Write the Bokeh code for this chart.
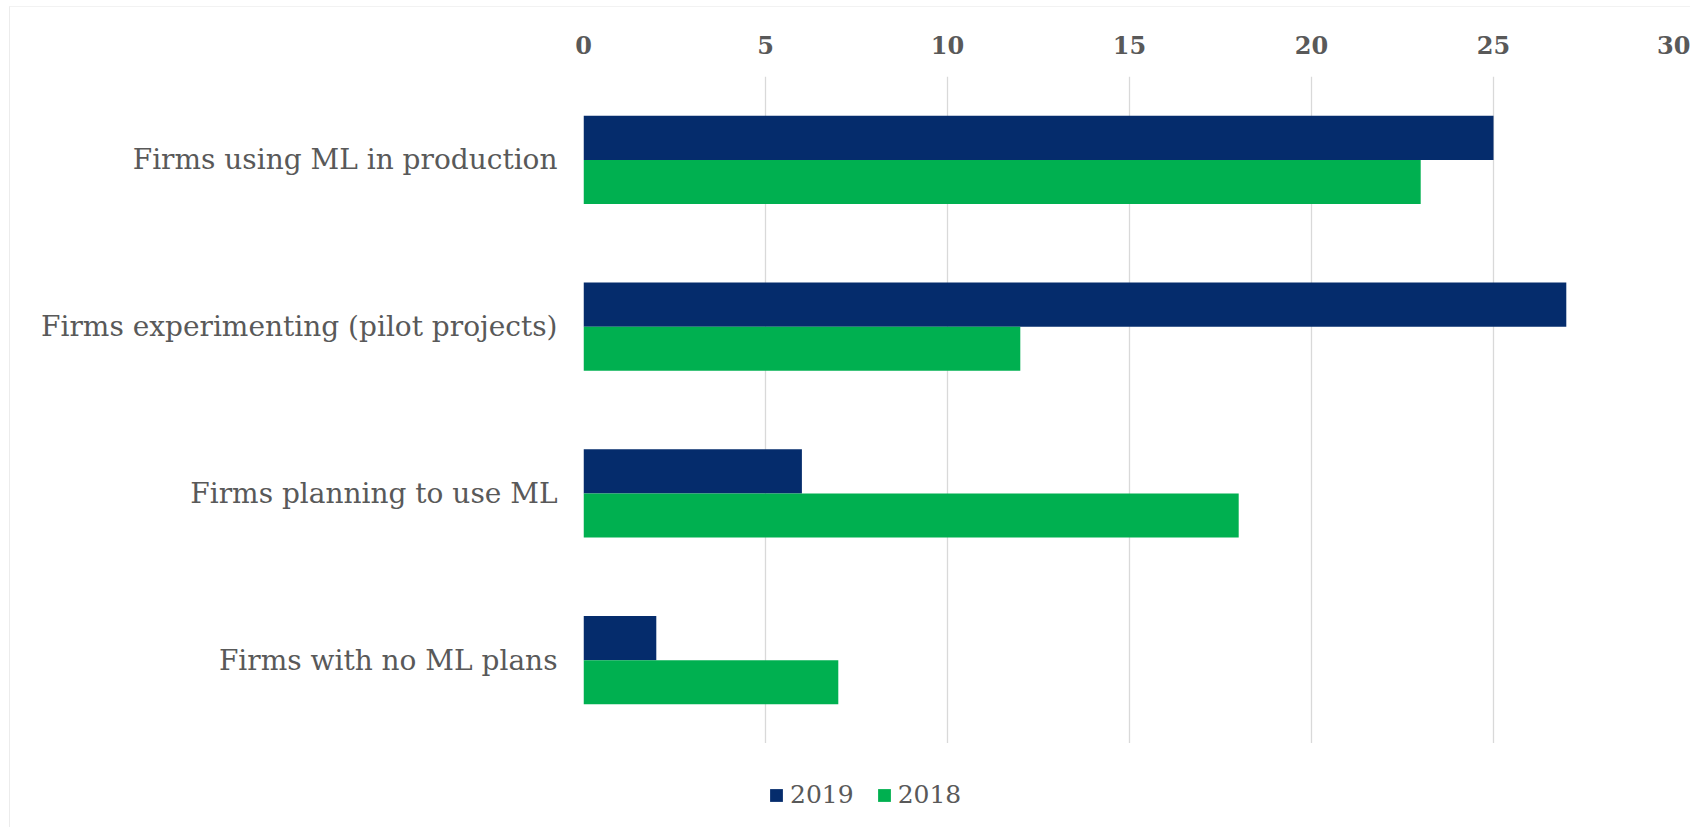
from bokeh.plotting import figure
from bokeh.layouts import column
from bokeh.models import FactorRange, Range1d, Legend, LegendItem, FixedTicker, ColumnDataSource
from bokeh.transform import dodge
from bokeh.embed import file_html
from bokeh.resources import INLINE

categories = ["Firms using ML in production",
              "Firms experimenting (pilot projects)",
              "Firms planning to use ML",
              "Firms with no ML plans"]
values_2019 = [25, 27, 6, 2]
values_2018 = [23, 12, 18, 7]
series = ["2019", "2018"]
x_ticks = [0, 5, 10, 15, 20, 25, 30]

C2019 = "#052C6C"
C2018 = "#00B050"
TEXT = "#595959"
FONT = "DejaVu Serif"

src = ColumnDataSource(dict(cat=categories, v2019=values_2019, v2018=values_2018))

W = 1680
LH = 84
p = figure(width=W, height=736,
           y_range=FactorRange(*list(reversed(categories))),
           x_range=Range1d(0, 30),
           x_axis_location="above",
           output_backend="svg", toolbar_location=None,
           min_border_left=573, min_border_right=15,
           min_border_top=69, min_border_bottom=0)

bh = 0.264
p.hbar(y=dodge("cat", bh / 2, range=p.y_range), right="v2019", left=0, height=bh,
       source=src, color=C2019, line_color=None)
p.hbar(y=dodge("cat", -bh / 2, range=p.y_range), right="v2018", left=0, height=bh,
       source=src, color=C2018, line_color=None)

p.outline_line_color = None
p.ygrid.grid_line_color = None
p.xgrid.grid_line_color = "#d9d9d9"
p.xgrid.grid_line_width = 1.3
p.xaxis.ticker = FixedTicker(ticks=x_ticks)

for ax in (p.xaxis[0], p.yaxis[0]):
    ax.axis_line_color = None
    ax.major_tick_line_color = None
    ax.minor_tick_line_color = None
    ax.major_tick_in = 0
    ax.major_tick_out = 0

p.xaxis.major_label_text_font = FONT
p.xaxis.major_label_text_font_style = "bold"
p.xaxis.major_label_text_font_size = "24px"
p.xaxis.major_label_text_color = TEXT
p.xaxis.major_label_standoff = 23

p.yaxis.major_label_text_font = FONT
p.yaxis.major_label_text_font_size = "28px"
p.yaxis.major_label_text_color = TEXT
p.yaxis.major_label_standoff = 26

# legend strip below the chart (its frame is aligned with the main frame)
pleg = figure(width=W, height=LH, x_range=Range1d(0, 1), y_range=Range1d(0, 1),
              output_backend="svg", toolbar_location=None,
              min_border_left=0, min_border_right=0, min_border_top=0, min_border_bottom=0)
pleg.axis.visible = False
pleg.grid.visible = False
pleg.outline_line_color = None
d1 = pleg.hbar(y=[-100], right=[1], left=0, height=1, color=C2019, line_color=None)
d2 = pleg.hbar(y=[-100], right=[1], left=0, height=1, color=C2018, line_color=None)

legend = Legend(items=[LegendItem(label=series[0], renderers=[d1]),
                       LegendItem(label=series[1], renderers=[d2])],
                orientation="horizontal", location=(185, 18),
                glyph_width=16, glyph_height=16, label_standoff=6, spacing=22,
                padding=0, margin=0, border_line_color=None, background_fill_alpha=0,
                label_text_font=FONT, label_text_font_size="25px", label_text_color=TEXT,
                label_height=28)
pleg.add_layout(legend, "center")

layout = column(p, pleg, spacing=0,
                styles={"margin-left": "9px", "margin-top": "6px",
                        "border-left": "1px solid #ececec", "border-top": "1px solid #f2f2f2"})

open("out.html", "w").write(file_html(layout, INLINE))
